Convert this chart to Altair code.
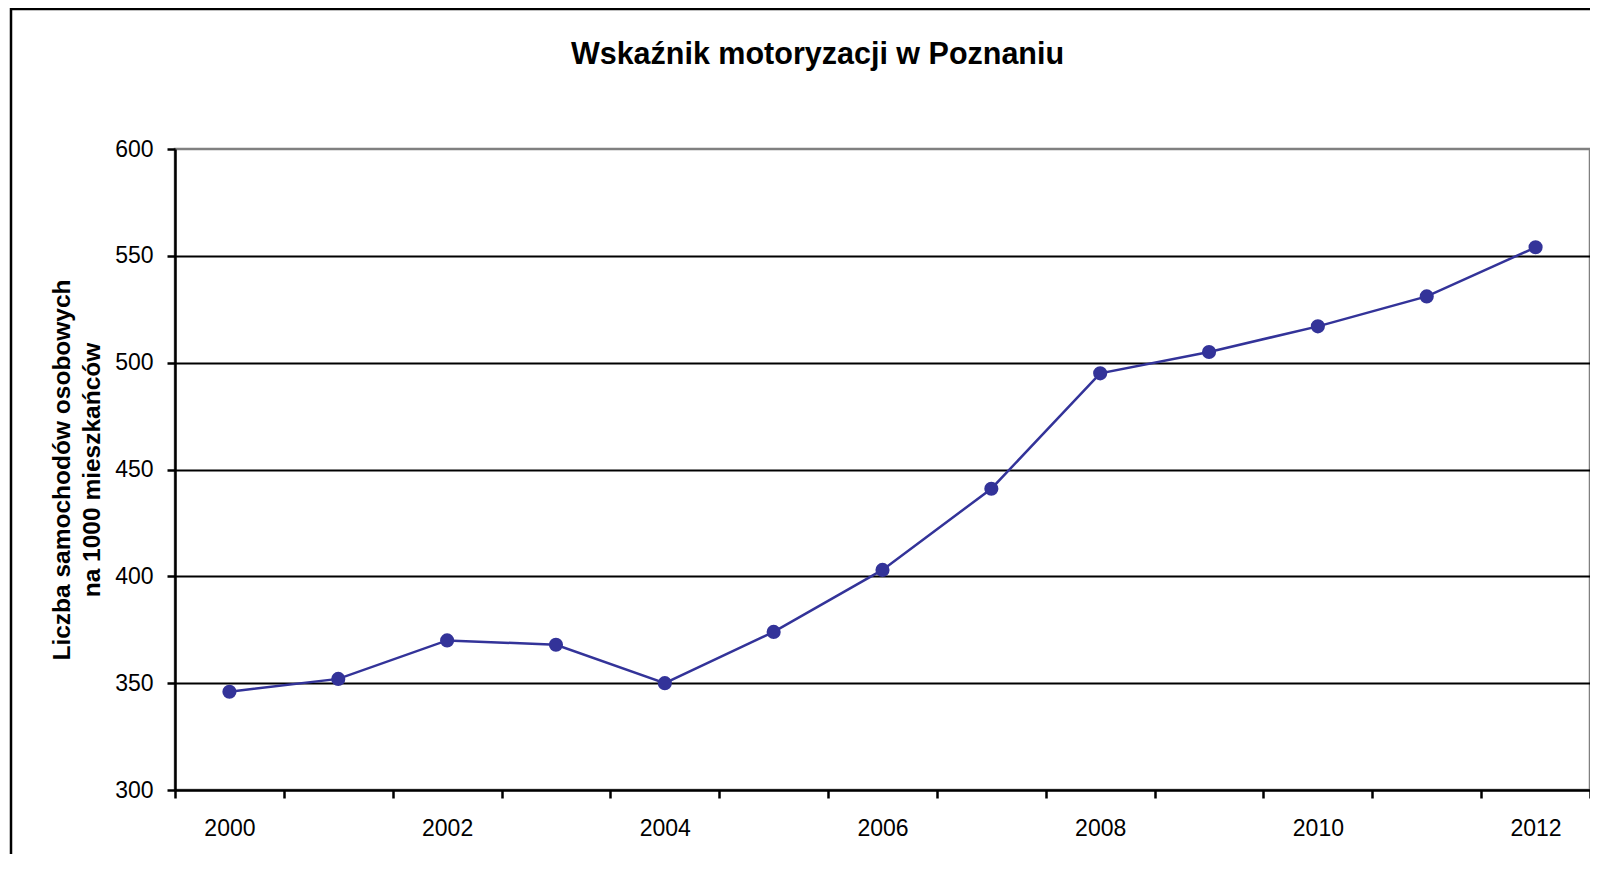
import altair as alt
import pandas as pd

# ---- data ----
years = [2000, 2001, 2002, 2003, 2004, 2005, 2006, 2007, 2008, 2009, 2010, 2011, 2012]
values = [346, 352, 370, 368, 350, 374, 403, 441, 495, 505, 517, 531, 554]
y_ticks = [300, 350, 400, 450, 500, 550, 600]
x_boundaries = [1999.5 + i for i in range(14)]

title_text = "Wskaźnik motoryzacji w Poznaniu"
y_title = ["Liczba samochodów osobowych", "na 1000 mieszkańców"]

W = 1415
H = 641
band = W / len(years)
FONT = "Liberation Sans"
LINE_COLOR = "#333399"

df = pd.DataFrame({"rok": years, "wartosc": values})

x_enc = alt.X(
    "rok:Q",
    scale=alt.Scale(domain=[1999.5, 2012.5], nice=False, zero=False),
    axis=alt.Axis(
        values=x_boundaries,
        labelExpr="((datum.value + 0.5) % 2 == 0 && datum.value < 2012) ? format(datum.value + 0.5, 'd') : ''",
        labelOffset=band / 2,
        labelOverlap=False,
        labelFlush=False,
        labelBound=False,
        labelFontSize=23,
        labelPadding=19,
        tickSize=8,
        tickWidth=2.5,
        tickColor="black",
        domainColor="black",
        domainWidth=2.5,
        grid=False,
        title=None,
    ),
)

y_enc = alt.Y(
    "wartosc:Q",
    scale=alt.Scale(domain=[300, 600], nice=False, zero=False),
    axis=alt.Axis(
        values=y_ticks,
        labelFontSize=23,
        labelPadding=14,
        tickSize=8,
        tickWidth=2.5,
        tickColor="black",
        domainColor="black",
        domainWidth=2.5,
        grid=True,
        gridColor="black",
        gridWidth=2,
        gridOpacity={"condition": {"test": "datum.value == 600 || datum.value == 300", "value": 0}, "value": 1},
        title=y_title,
        titleFontSize=24.5,
        titleFontWeight="bold",
        titleColor="black",
        titleFont=FONT,
        titleLineHeight=30,
        titlePadding=10,
    ),
)

base = alt.Chart(df)
line = base.mark_line(color=LINE_COLOR, strokeWidth=2.5).encode(x=x_enc, y=y_enc)
points = base.mark_point(filled=True, size=200, color=LINE_COLOR, opacity=1).encode(x="rok:Q", y="wartosc:Q")

border = alt.Chart(pd.DataFrame({"k": [0]})).mark_rect(
    fillOpacity=0, stroke="black", strokeWidth=2.5
).encode(
    x=alt.value(-164), x2=alt.value(W + 200), y=alt.value(-140), y2=alt.value(H + 300)
)

chart = alt.layer(border, line, points).properties(
    width=W,
    height=H,
    title=alt.TitleParams(
        title_text,
        font=FONT,
        fontSize=30.5,
        fontWeight="bold",
        color="black",
        anchor="middle",
        frame="group",
        baseline="alphabetic",
        dx=-65,
        offset=-87,
    ),
    autosize=alt.AutoSizeParams(type="none"),
    padding={"left": 167, "top": 141, "right": 0, "bottom": 64},
).configure(
    background="white",
).configure_view(
    stroke="#808080", strokeWidth=2.5
).configure_axis(
    labelFont=FONT, labelColor="black"
)

chart.save("out.html", embed_options={"renderer": "svg", "actions": False})
